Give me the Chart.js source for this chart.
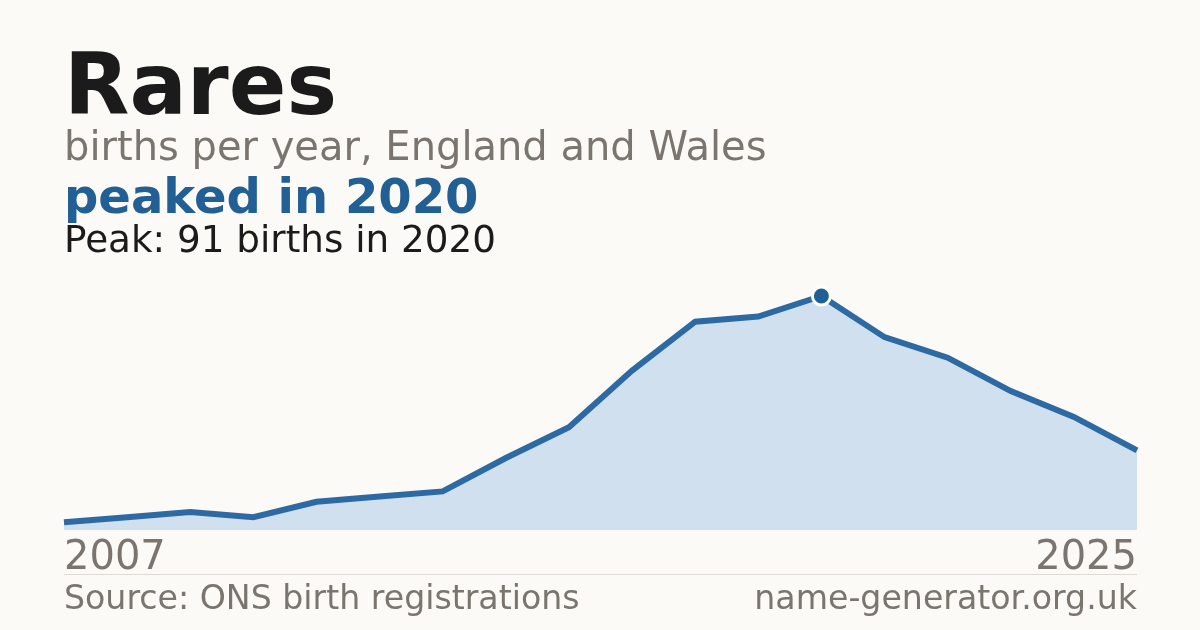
<!DOCTYPE html>
<html>
<head>
<meta charset="utf-8">
<script src="https://cdn.jsdelivr.net/npm/chart.js@4.4.1/dist/chart.umd.min.js"></script>
<style>
  html, body { margin: 0; padding: 0; }
  body { width: 1200px; height: 630px; background: #fbfaf6; position: relative; overflow: hidden;
         font-family: "DejaVu Sans", sans-serif; }
  .t { position: absolute; left: 64px; line-height: 1; white-space: nowrap; }
  #title { top: 42px; font-size: 85px; font-weight: bold; color: #1b1b1b; }
  #sub { top: 126px; font-size: 40px; color: #7a766f; }
  #hl { top: 172px; font-size: 48px; font-weight: bold; color: #215f95; }
  #peak { top: 221px; font-size: 37.3px; color: #1b1b1b; }
  .ax { position: absolute; top: 535px; font-size: 40px; line-height: 1; color: #7a766f; }
  #axL { left: 64px; }
  #axR { right: 63px; }
  #rule { position: absolute; left: 64px; width: 1073px; top: 574px; height: 1px; background: #dddad3; }
  .ft { position: absolute; top: 581px; font-size: 33.2px; line-height: 1; color: #7a766f; white-space: nowrap; }
  #src { left: 64px; }
  #site { right: 63px; }
  #wrap { position: absolute; left: 0; top: 0; width: 1200px; height: 630px; }
</style>
</head>
<body>
<div id="wrap"><canvas id="c" width="1200" height="630"></canvas></div>
<div class="t" id="title">Rares</div>
<div class="t" id="sub">births per year, England and Wales</div>
<div class="t" id="hl">peaked in 2020</div>
<div class="t" id="peak">Peak: 91 births in 2020</div>
<div class="ax" id="axL">2007</div>
<div class="ax" id="axR">2025</div>
<div id="rule"></div>
<div class="ft" id="src">Source: ONS birth registrations</div>
<div class="ft" id="site">name-generator.org.uk</div>

<script>
// years shown (no point for 2008)
const YEARS = [2007, 2009, 2010, 2011, 2012, 2013, 2014, 2015, 2016, 2017, 2018, 2019, 2020, 2021, 2022, 2023, 2024, 2025];
const BIRTHS = [3, 5, 7, 5, 11, 13, 15, 28, 40, 62, 81, 83, 91, 75, 67, 54, 44, 31];
const PEAK_YEAR = 2020;

const LINE = "#2d6aa3";
const FILL = "#d0e0ef";
const DOT = "#1f5f96";

const peakIdx = YEARS.indexOf(PEAK_YEAR);

new Chart(document.getElementById("c"), {
  type: "line",
  data: {
    labels: YEARS.map(String),
    datasets: [{
      data: BIRTHS,
      borderColor: LINE,
      borderWidth: 6,
      backgroundColor: FILL,
      fill: "origin",
      tension: 0,
      clip: false,
      pointRadius: YEARS.map((y, i) => (i === peakIdx ? 9 : 0)),
      pointBorderWidth: 3,
      pointBackgroundColor: DOT,
      pointBorderColor: "#ffffff",
      pointHoverRadius: 0
    }]
  },
  options: {
    responsive: false,
    animation: false,
    devicePixelRatio: 1,
    layout: { padding: { left: 64, right: 63, top: 296, bottom: 100 } },
    plugins: { legend: { display: false }, tooltip: { enabled: false } },
    scales: {
      x: { type: "category", offset: false, display: false },
      y: { min: 0, max: 91, display: false }
    }
  }
});
</script>
</body>
</html>
